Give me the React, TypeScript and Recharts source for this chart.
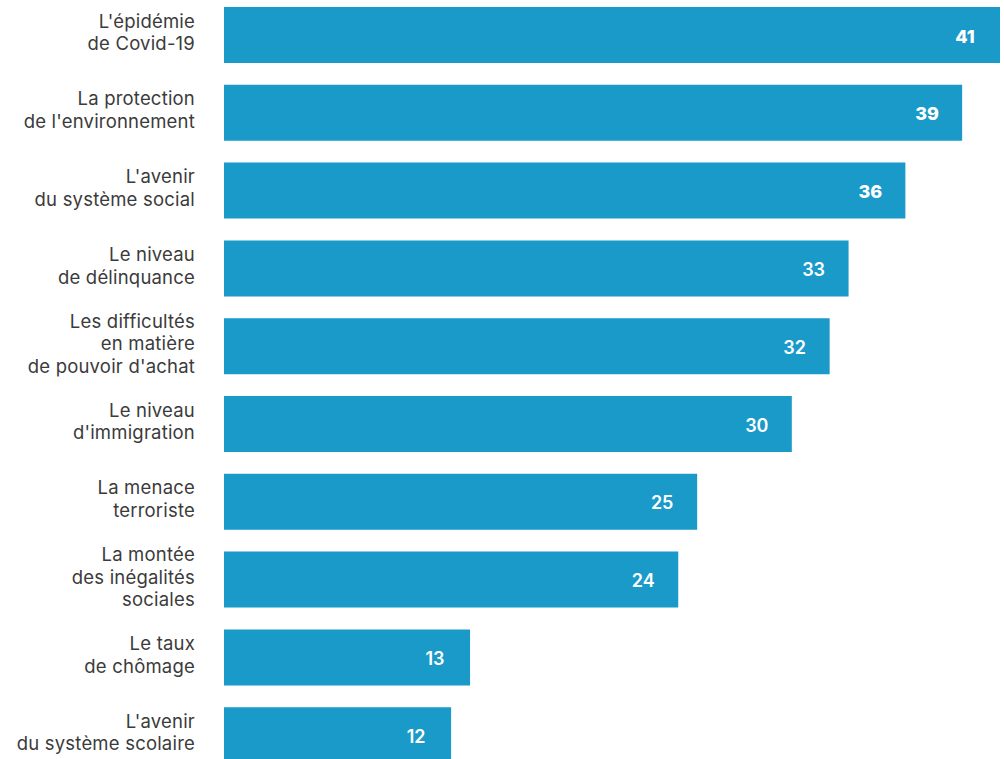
import { BarChart, Bar, XAxis, YAxis, LabelList } from "recharts";

const categories = [
  "L'épidémie\nde Covid-19",
  "La protection\nde l'environnement",
  "L'avenir\ndu système social",
  "Le niveau\nde délinquance",
  "Les difficultés\nen matière\nde pouvoir d'achat",
  "Le niveau\nd'immigration",
  "La menace\nterroriste",
  "La montée\ndes inégalités\nsociales",
  "Le taux\nde chômage",
  "L'avenir\ndu système scolaire",
];

const values = [41, 39, 36, 33, 32, 30, 25, 24, 13, 12];

const data = categories.map((name, i) => ({ name, value: values[i] }));

const FONT = "Inter, 'Liberation Sans', Arial, sans-serif";

const CategoryTick = (props: any) => {
  const { x, y, payload } = props;
  const lines = String(payload.value).split("\n");
  const lh = 22.5;
  const start = y - 3 - ((lines.length - 1) * lh) / 2;
  return (
    <text
      x={x}
      y={start}
      textAnchor="end"
      fill="#3b3b3b"
      fontSize={18.5}
      letterSpacing={0.2}
      fontFamily={FONT}
      dominantBaseline="central"
    >
      {lines.map((l, i) => (
        <tspan key={i} x={x} y={start + i * lh}>
          {l}
        </tspan>
      ))}
    </text>
  );
};

const ValueLabel = (props: any) => {
  const { x, y, width, height, value, index } = props;
  return (
    <text
      x={x + width - 35}
      y={y + height / 2 + 1}
      textAnchor="middle"
      dominantBaseline="central"
      fill="#ffffff"
      fontSize={18}
      fontWeight={index < 3 ? 800 : 600}
      fontFamily={FONT}
    >
      {value}
    </text>
  );
};

const App = () => {
  return (
    <div
      style={{
        position: "absolute",
        left: 0,
        top: 0,
        width: 1004,
        height: 759,
        overflow: "hidden",
        background: "#ffffff",
      }}
    >
      <div style={{ position: "absolute", left: 0, top: -4 }}>
        <BarChart
          width={1004}
          height={778}
          data={data}
          layout="vertical"
          margin={{ top: 0, right: 4, bottom: 0, left: 0 }}
        >
          <XAxis type="number" domain={[0, 41]} hide />
          <YAxis
            type="category"
            dataKey="name"
            width={224}
            axisLine={false}
            tickLine={false}
            tickMargin={23}
            tick={<CategoryTick />}
            interval={0}
          />
          <Bar dataKey="value" fill="#1a9ac8" barSize={56} isAnimationActive={false}>
            <LabelList dataKey="value" content={<ValueLabel />} />
          </Bar>
        </BarChart>
      </div>
    </div>
  );
};

export default App;
